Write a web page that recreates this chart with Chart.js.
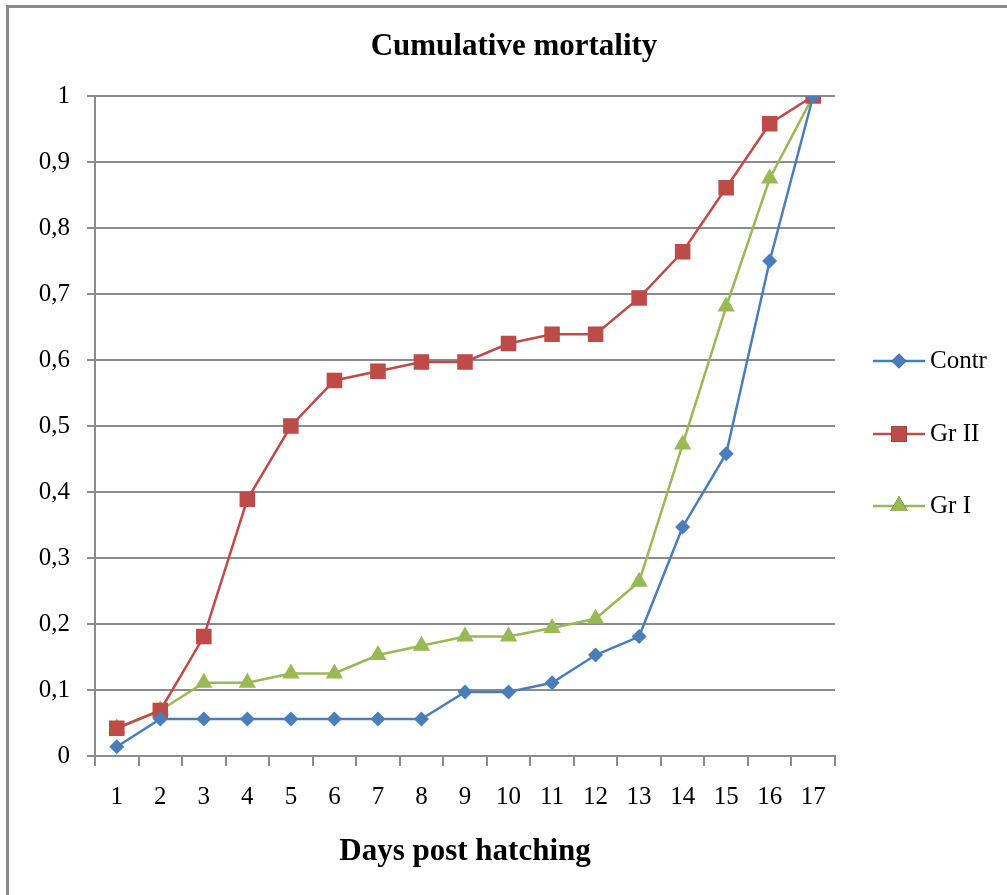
<!DOCTYPE html>
<html>
<head>
<meta charset="utf-8">
<script src="https://cdn.jsdelivr.net/npm/chart.js@4.4.1/dist/chart.umd.min.js"></script>
<style>
  html, body { margin: 0; padding: 0; background: #fff; }
  #wrap { position: relative; width: 1007px; height: 895px; }
  #c { position: absolute; left: 0; top: 0; }
  #frame { position: absolute; left: 6px; top: 5px; right: 0; bottom: 0;
           border-left: 3px solid #8a8a8a; border-top: 3px solid #8a8a8a; pointer-events: none; }
</style>
</head>
<body>
<div id="wrap">
  <canvas id="c" width="1007" height="895"></canvas>
  <div id="frame"></div>
</div>
<script>
const chartTitle = 'Cumulative mortality';
const xTitle = 'Days post hatching';
const days = ['1','2','3','4','5','6','7','8','9','10','11','12','13','14','15','16','17'];
const yTickLabels = ['0','0,1','0,2','0,3','0,4','0,5','0,6','0,7','0,8','0,9','1'];
const seriesNames = ['Contr', 'Gr II', 'Gr I'];
const contr = [0.014, 0.056, 0.056, 0.056, 0.056, 0.056, 0.056, 0.056, 0.097, 0.097, 0.111, 0.153, 0.181, 0.347, 0.458, 0.750, 1.0];
const grII  = [0.042, 0.069, 0.181, 0.389, 0.500, 0.569, 0.583, 0.597, 0.597, 0.625, 0.639, 0.639, 0.694, 0.764, 0.861, 0.958, 1.0];
const grI   = [0.042, 0.069, 0.111, 0.111, 0.125, 0.125, 0.153, 0.167, 0.181, 0.181, 0.194, 0.208, 0.264, 0.472, 0.681, 0.875, 1.0];

const FONT = '"Liberation Serif", "Times New Roman", serif';
const GRID = '#8c8c8c';
const colors = ['#4a7ebb', '#be4b48', '#98b954'];
const styles = ['rectRot', 'rect', 'triangle'];
const radii = [7.5, 11, 10];

function ds(label, data, i) {
  return {
    label, data,
    borderColor: colors[i], backgroundColor: colors[i],
    pointBackgroundColor: colors[i], pointBorderColor: colors[i],
    pointStyle: styles[i], pointRadius: radii[i], pointHoverRadius: radii[i],
    pointBorderWidth: 0, borderWidth: 2.5, tension: 0
  };
}

const customPlugin = {
  id: 'custom',
  afterDraw(chart) {
    const ctx = chart.ctx;
    ctx.save();
    ctx.fillStyle = '#000';
    ctx.font = 'bold 31px ' + FONT;
    ctx.textAlign = 'center';
    ctx.textBaseline = 'middle';
    ctx.fillText(chartTitle, 514, 47);
    const ys = [361, 434, 506];
    chart.data.datasets.forEach((d, i) => {
      const y = ys[i];
      ctx.strokeStyle = d.borderColor;
      ctx.lineWidth = 2.5;
      ctx.beginPath(); ctx.moveTo(873, y); ctx.lineTo(925, y); ctx.stroke();
      Chart.helpers.drawPoint(ctx, {pointStyle: d.pointStyle, radius: d.pointRadius, borderWidth: 0, rotation: 0}, 899, y);
      ctx.fillStyle = d.borderColor;
      ctx.fill();
      ctx.fillStyle = '#000';
      ctx.font = '25px ' + FONT;
      ctx.textAlign = 'left';
      ctx.fillText(d.label, 930, y);
    });
    ctx.restore();
  }
};

new Chart(document.getElementById('c'), {
  type: 'line',
  data: {
    labels: days,
    datasets: [ds(seriesNames[0], contr, 0), ds(seriesNames[1], grII, 1), ds(seriesNames[2], grI, 2)]
  },
  options: {
    responsive: false,
    animation: false,
    layout: { padding: { top: 96, right: 172, left: 0, bottom: 0 } },
    plugins: { legend: { display: false }, title: { display: false }, tooltip: { enabled: false } },
    scales: {
      x: {
        offset: true,
        grid: { offset: true, drawOnChartArea: false, drawTicks: true, tickLength: 10, color: GRID, lineWidth: 2 },
        border: { display: true, color: GRID, width: 2 },
        ticks: { color: '#000', font: { family: FONT, size: 25 }, padding: 16, maxRotation: 0, autoSkip: false },
        title: { display: true, text: xTitle, color: '#000', font: { family: FONT, size: 31, weight: 'bold' }, padding: { top: 0, bottom: 24 } },
        afterFit(s) { s.height = 139; }
      },
      y: {
        min: 0, max: 1,
        grid: { color: GRID, lineWidth: 2, drawTicks: true, tickLength: 8 },
        border: { display: true, color: GRID, width: 2 },
        ticks: { stepSize: 0.1, color: '#000', font: { family: FONT, size: 25 }, padding: 17,
                 callback: (v, i) => yTickLabels[i] },
        afterFit(s) { s.width = 95; }
      }
    }
  },
  plugins: [customPlugin]
});
</script>
</body>
</html>
